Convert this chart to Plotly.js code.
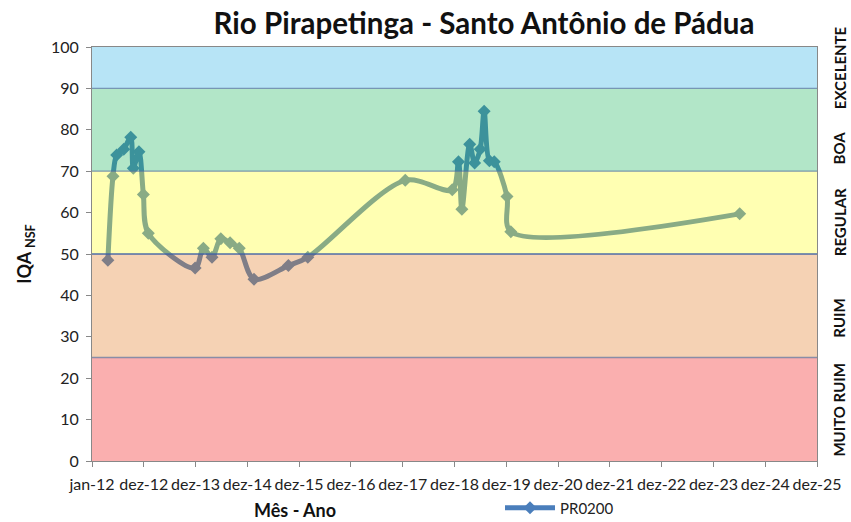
<!DOCTYPE html>
<html>
<head>
<meta charset="utf-8">
<script src="https://cdn.plot.ly/plotly-3.0.1.min.js"></script>
<style>html,body{margin:0;padding:0;background:#fff;}#chart{width:851px;height:522px;}</style>
</head>
<body>
<div id="chart"></div>
<script>
// Sampling dates and IQA values
const dates = ['2012-04-22','2012-05-28','2012-06-23','2012-08-12','2012-09-30','2012-10-18','2012-11-27','2012-12-28','2013-02-01',
  '2013-12-28','2014-02-24','2014-04-26','2014-06-27','2014-08-31','2014-11-04','2015-02-16','2015-10-16','2016-03-01',
  '2018-01-17','2018-12-14','2019-01-27','2019-02-20','2019-04-16','2019-05-21','2019-06-29','2019-07-27','2019-09-02','2019-10-06',
  '2020-01-04','2020-01-31','2024-07-01'];
const iqa = [48.5,68.8,73.9,75.3,78.2,70.7,74.7,64.4,55.0,
  46.6,51.4,49.2,53.7,52.7,51.4,43.9,47.2,49.2,
  67.8,65.5,72.3,60.8,76.5,72.0,75.3,84.5,72.5,72.3,
  63.9,55.4,59.7];
const seriesName = 'PR0200';
const tickLabels = ['jan-12','dez-12','dez-13','dez-14','dez-15','dez-16','dez-17','dez-18','dez-19','dez-20','dez-21','dez-22','dez-23','dez-24','dez-25'];
// Quality classes (lower, upper, label)
const classLow = [0, 25, 50, 70, 90];
const classHigh = [25, 50, 70, 90, 100];
const classNames = ['MUITO RUIM', 'RUIM', 'REGULAR', 'BOA', 'EXCELENTE'];
const classColors = ['rgb(241,26,26)','rgb(226,126,41)','rgb(255,255,35)','rgb(35,184,98)','rgb(49,178,229)'];

// tick positions: every 365 days from 1 Jan 2012
const base = Date.UTC(2012,0,1);
const dayMs = 86400000;
const tickVals = tickLabels.map((_, k) => new Date(base + k*365*dayMs).toISOString().slice(0,10));
const xEnd = tickVals[tickVals.length-1];

const FONT = 'Lato, Open Sans, sans-serif';
const shapes = [];
classLow.forEach((lo, i) => {
  shapes.push({type:'rect', xref:'paper', yref:'y', x0:0, x1:1, y0:lo, y1:classHigh[i],
    fillcolor: classColors[i], opacity:0.35, line:{width:0}, layer:'above'});
});
[25,50,70,90].forEach(v => {
  shapes.push({type:'line', xref:'paper', yref:'y', x0:0, x1:1, y0:v, y1:v,
    line:{color: v===50 ? 'rgba(60,95,165,0.9)' : 'rgba(90,115,160,0.7)', width:1.3}, layer:'above'});
});

// label placement on the right side (paper fraction of plot height)
const labelPos = [12.3/100, 34.5/100, 57.8/100, 75.6/100, 95/100];
const annotations = classNames.map((n, i) => ({
  text: '<b>' + n + '</b>', xref:'paper', yref:'paper', x:1.031, y:labelPos[i],
  textangle:-90, showarrow:false, xanchor:'center', yanchor:'middle',
  font:{family:FONT, size:15, color:'#111'}
}));
annotations.push({text:'<b>Mês - Ano</b>', xref:'paper', yref:'paper', x:(295-92)/725, y:-(510-461)/414,
  showarrow:false, xanchor:'center', yanchor:'middle', font:{family:FONT, size:18, color:'#111'}});

const trace = {
  x: dates, y: iqa, type:'scatter', mode:'lines+markers', name: seriesName,
  line:{color:'rgb(74,126,187)', width:5, shape:'spline', smoothing:0.9},
  marker:{symbol:'diamond', size:10, color:'rgb(74,126,187)'}
};

const layout = {
  width:851, height:522,
  margin:{l:92, r:34, t:47, b:61, autoexpand:false},
  paper_bgcolor:'#fff', plot_bgcolor:'#fff',
  title:{text:'<b>Rio Pirapetinga - Santo Antônio de Pádua</b>', x:484/851, xanchor:'center', y:1-24/522, yanchor:'middle',
    font:{family:FONT, size:29.5, color:'#111'}},
  xaxis:{type:'date', range:[tickVals[0], xEnd], tickmode:'array', tickvals:tickVals, ticktext:tickLabels,
    ticks:'outside', ticklen:5, tickcolor:'#888', showgrid:false, zeroline:false,
    showline:true, linecolor:'#888', linewidth:1, mirror:true, automargin:false, ticklabelstandoff:4,
    tickfont:{family:FONT, size:16, color:'#222'}},
  yaxis:{range:[0,100], dtick:10, ticks:'outside', ticklen:5, tickcolor:'#888', showgrid:false, zeroline:false,
    showline:true, linecolor:'#888', linewidth:1, mirror:true, automargin:false, ticklabelstandoff:4,
    tickfont:{family:FONT, size:16, color:'#222'},
    title:{text:'<b>IQA <sub>NSF</sub></b>', standoff:14, font:{family:FONT, size:18, color:'#111'}}},
  showlegend:true,
  legend:{orientation:'h', x:(500-92)/725, y:-(508-461)/414, xanchor:'left', yanchor:'middle', bgcolor:'rgba(0,0,0,0)',
    itemwidth:50, font:{family:FONT, size:15, color:'#222'}},
  shapes: shapes,
  annotations: annotations
};

Plotly.newPlot('chart', [trace], layout, {displayModeBar:false, staticPlot:true});
</script>
</body>
</html>
